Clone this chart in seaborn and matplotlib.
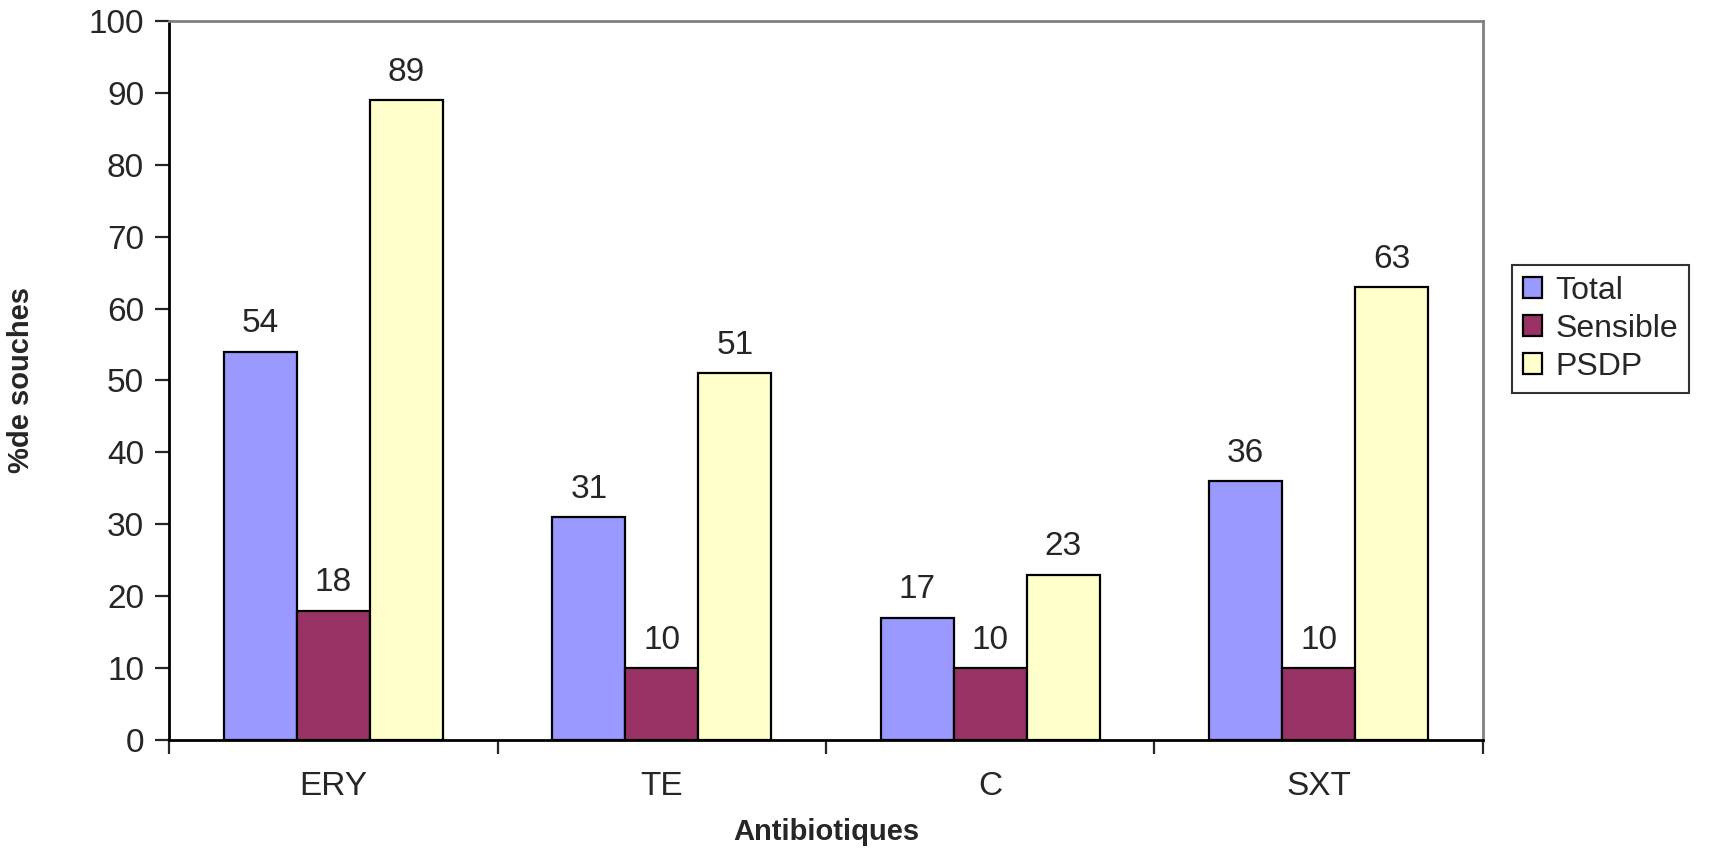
import numpy as np
import pandas as pd
import matplotlib
matplotlib.use("Agg")
import matplotlib.pyplot as plt
import seaborn as sns
from matplotlib.ticker import FixedLocator

antibiotiques = ["ERY", "TE", "C", "SXT"]
series = ["Total", "Sensible", "PSDP"]
total = [54, 31, 17, 36]
sensible = [18, 10, 10, 10]
psdp = [89, 51, 23, 63]
colors = ["#9999FF", "#993366", "#FFFFCC"]

df = pd.DataFrame({
    "Antibiotiques": antibiotiques * 3,
    "Serie": [s for s in series for _ in antibiotiques],
    "valeur": total + sensible + psdp,
})

sns.set_style("white")
plt.rcParams["font.family"] = ["Liberation Sans", "DejaVu Sans"]

fig = plt.figure(figsize=(17.25, 8.51), dpi=100)
ax = fig.add_axes([0.098, 0.1305, 0.7617, 0.8448])

sns.barplot(data=df, x="Antibiotiques", y="valeur", hue="Serie",
            palette=colors, width=2 / 3, edgecolor="black", linewidth=1.6,
            saturation=1, ax=ax)

for cont in ax.containers:
    ax.bar_label(cont, fmt="%d", padding=9, fontsize=24)

ax.set_ylim(0, 100)
ax.set_xlim(-0.5, len(antibiotiques) - 0.5)
ax.set_yticks(np.arange(0, 101, 10))
ax.tick_params(axis="y", labelsize=24, length=10, width=1.6, direction="out", left=True, pad=8)
ax.tick_params(axis="x", which="major", labelsize=24, length=0, pad=22)
ax.xaxis.set_minor_locator(FixedLocator(np.arange(-0.5, len(antibiotiques), 1)))
ax.tick_params(axis="x", which="minor", length=10, width=1.6, direction="out", bottom=True)

ax.set_xlabel("Antibiotiques", fontsize=21, fontweight="bold")
ax.set_ylabel("%de souches", fontsize=21, fontweight="bold")
ax.xaxis.set_label_coords(0.5, -0.108)
ax.yaxis.set_label_coords(-0.102, 0.5)

for side in ["left", "bottom"]:
    ax.spines[side].set_color("black")
    ax.spines[side].set_linewidth(2)
for side in ["top", "right"]:
    ax.spines[side].set_visible(True)
    ax.spines[side].set_color("#808080")
    ax.spines[side].set_linewidth(2)

leg = ax.legend(loc="center left", bbox_to_anchor=(1.01, 0.572), fontsize=23,
                frameon=True, fancybox=False, edgecolor="black", handlelength=0.6,
                handleheight=0.6, handletextpad=0.4, borderpad=0.35, labelspacing=0.25,
                title=None)
leg.get_frame().set_linewidth(1.5)

fig.savefig("out.png", dpi=100)
